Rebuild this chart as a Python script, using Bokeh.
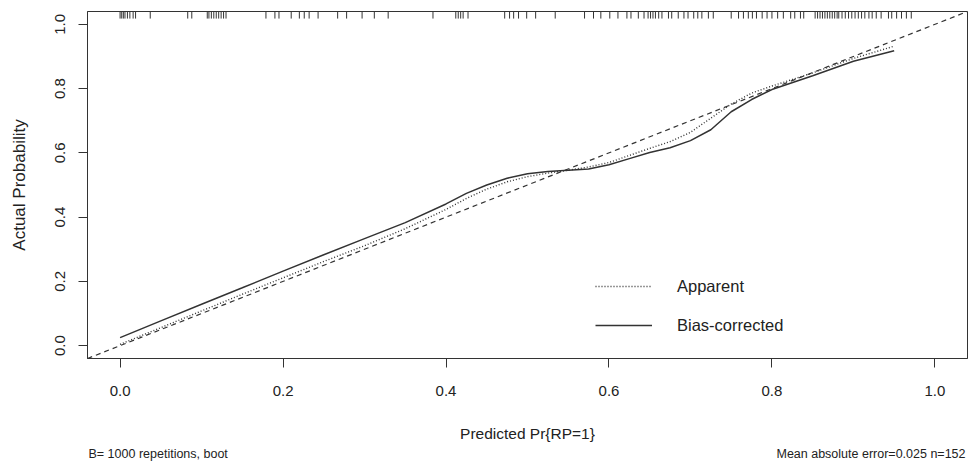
import numpy as np
from bokeh.plotting import figure
from bokeh.layouts import column
from bokeh.models import Range1d, Legend, LegendItem, Label, FixedTicker, Slope
from bokeh.embed import file_html
from bokeh.resources import INLINE

# ---- data ----
pred = [0.00, 0.05, 0.10, 0.15, 0.20, 0.25, 0.30, 0.35, 0.40, 0.425, 0.45, 0.475,
        0.50, 0.525, 0.55, 0.575, 0.60, 0.625, 0.65, 0.675, 0.70, 0.725, 0.75,
        0.775, 0.80, 0.85, 0.90, 0.95]
apparent = [0.004, 0.056, 0.108, 0.160, 0.211, 0.262, 0.311, 0.364, 0.424, 0.458,
            0.487, 0.510, 0.526, 0.537, 0.546, 0.556, 0.570, 0.592, 0.614, 0.635,
            0.664, 0.708, 0.752, 0.786, 0.808, 0.849, 0.894, 0.932]
bias_corrected = [0.025, 0.077, 0.129, 0.180, 0.232, 0.283, 0.333, 0.383, 0.441,
                  0.474, 0.500, 0.521, 0.535, 0.542, 0.546, 0.550, 0.563, 0.582,
                  0.601, 0.616, 0.638, 0.672, 0.728, 0.766, 0.797, 0.840, 0.885, 0.918]
rug = [0.000, 0.002, 0.004, 0.006, 0.009, 0.012, 0.016, 0.019, 0.037, 0.083, 0.088,
       0.107, 0.109, 0.112, 0.115, 0.118, 0.121, 0.124, 0.127, 0.130, 0.179, 0.190,
       0.195, 0.210, 0.220, 0.226, 0.232, 0.243, 0.267, 0.278, 0.297, 0.312, 0.329,
       0.384, 0.412, 0.415, 0.418, 0.421, 0.427, 0.472, 0.478, 0.483, 0.489, 0.499,
       0.510, 0.534, 0.570, 0.581, 0.590, 0.601, 0.611, 0.622, 0.627, 0.636, 0.643,
       0.648, 0.651, 0.654, 0.657, 0.661, 0.665, 0.673, 0.677, 0.685, 0.692, 0.697,
       0.704, 0.709, 0.714, 0.722, 0.728, 0.750, 0.759, 0.765, 0.771, 0.776, 0.781,
       0.788, 0.794, 0.800, 0.807, 0.814, 0.823, 0.828, 0.835, 0.839, 0.853, 0.856,
       0.859, 0.862, 0.865, 0.868, 0.871, 0.874, 0.877, 0.880, 0.882, 0.886, 0.890,
       0.894, 0.898, 0.902, 0.906, 0.910, 0.914, 0.919, 0.923, 0.928, 0.934, 0.943,
       0.947, 0.953, 0.959, 0.965, 0.971]
ticks = [0.0, 0.2, 0.4, 0.6, 0.8, 1.0]
tick_labels = ["0.0", "0.2", "0.4", "0.6", "0.8", "1.0"]
legend_labels = ["Apparent", "Bias-corrected"]
x_title = "Predicted Pr{RP=1}"
y_title = "Actual Probability"
note_left = "B= 1000 repetitions, boot"
note_right = "Mean absolute error=0.025 n=152"

FONT = "Liberation Sans"
INK = "#222222"
LINE = "#333333"

W = 969
p = figure(width=W, height=444, output_backend="svg", toolbar_location=None,
           x_range=Range1d(-0.04, 1.04), y_range=Range1d(-0.04, 1.04),
           min_border_left=87, min_border_right=2, min_border_top=11, min_border_bottom=84)
p.background_fill_color = "white"
p.border_fill_color = "white"
p.outline_line_color = LINE
p.outline_line_width = 1
p.grid.visible = False

for ax in (p.xaxis, p.yaxis):
    ax.ticker = FixedTicker(ticks=ticks)
    ax.major_label_overrides = {t: s for t, s in zip(ticks, tick_labels)}
    ax.minor_tick_line_color = None
    ax.major_tick_in = 0
    ax.major_tick_out = 9
    ax.axis_line_color = LINE
    ax.major_tick_line_color = LINE
    ax.major_label_text_font = FONT
    ax.major_label_text_font_size = "15px"
    ax.major_label_text_color = INK
    ax.axis_label_text_font = FONT
    ax.axis_label_text_font_style = "normal"
    ax.axis_label_text_color = INK

p.xaxis.axis_label = x_title
p.xaxis.axis_label_text_font_size = "15.5px"
p.xaxis.major_label_standoff = 18
p.xaxis.axis_label_standoff = 26

p.yaxis.axis_label = y_title
p.yaxis.axis_label_text_font_size = "17px"
p.yaxis.major_label_orientation = "vertical"
p.yaxis.major_label_standoff = 13
p.yaxis.axis_label_standoff = 24

# ideal line
p.add_layout(Slope(gradient=1, y_intercept=0, line_color=LINE, line_width=1.2,
                   line_dash="5 4"))

r_app = p.line(pred, apparent, line_color=LINE, line_width=1.4, line_dash="1 2")
r_bc = p.line(pred, bias_corrected, line_color=LINE, line_width=1.5)

# rug at top
p.segment(x0=rug, y0=1.04, x1=rug, y1=1.018, line_color=LINE, line_width=1)

legend = Legend(items=[LegendItem(label=legend_labels[0], renderers=[r_app]),
                       LegendItem(label=legend_labels[1], renderers=[r_bc])],
                location=(508, 23), orientation="vertical")
legend.glyph_width = 57
legend.glyph_height = 20
legend.label_height = 20
legend.spacing = 19
legend.padding = 0
legend.margin = 0
legend.label_standoff = 25
legend.border_line_color = None
legend.background_fill_alpha = 0
legend.label_text_font = FONT
legend.label_text_font_size = "16.5px"
legend.label_text_color = INK
p.add_layout(legend, "center")

# footer strip with the two notes (its frame is aligned with the main frame)
foot = figure(width=W, height=17, output_backend="svg", toolbar_location=None,
              x_range=Range1d(-0.04, 1.04), y_range=Range1d(0, 17),
              x_axis_type=None, y_axis_type=None, min_border=0)
foot.outline_line_color = None
foot.background_fill_color = "white"
foot.border_fill_color = "white"
foot.grid.visible = False
foot.add_layout(Label(x=1, y=8, x_units="screen", y_units="screen", text=note_left,
                      text_font=FONT, text_font_size="12.5px", text_color=INK,
                      text_baseline="middle", text_align="left"))
foot.add_layout(Label(x=878, y=8, x_units="screen", y_units="screen", text=note_right,
                      text_font=FONT, text_font_size="12.5px", text_color=INK,
                      text_baseline="middle", text_align="right"))

layout = column(p, foot, spacing=0)
open("out.html", "w").write(file_html(layout, INLINE))
